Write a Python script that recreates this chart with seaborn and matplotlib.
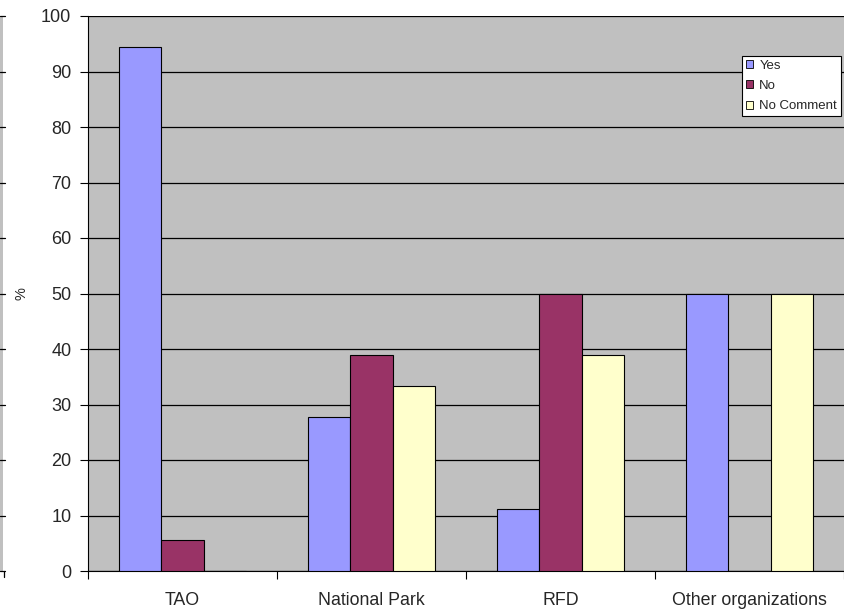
import matplotlib
matplotlib.use("Agg")
import matplotlib.pyplot as plt
import matplotlib.patches as mpatches
import matplotlib.lines as mlines
import seaborn as sns
import pandas as pd
import numpy as np

# Survey answers by organisation (% of respondents)
categories = ["TAO", "National Park", "RFD", "Other organizations"]
answers = ["Yes", "No", "No Comment"]
yes_vals = [94.4, 27.8, 11.1, 50.0]
no_vals = [5.6, 38.9, 50.0, 0.0]
nocomment_vals = [0.0, 33.3, 38.9, 50.0]
colors = ["#9999FF", "#993366", "#FFFFCC"]

rows = []
for ans, vals in zip(answers, [yes_vals, no_vals, nocomment_vals]):
    for cat, v in zip(categories, vals):
        rows.append({"Organization": cat, "Answer": ans, "Percent": v})
df = pd.DataFrame(rows)

sns.set_theme(style="white")
plt.rcParams["font.family"] = ["Liberation Sans", "DejaVu Sans"]

W, H = 844, 610
fig = plt.figure(figsize=(W / 100, H / 100), dpi=100)
fig.patch.set_facecolor("white")
ax = fig.add_axes([88 / W, (H - 571) / H, (W - 88) / W, (571 - 16) / H])
ax.set_facecolor("#C0C0C0")

sns.barplot(data=df, x="Organization", y="Percent", hue="Answer",
            hue_order=answers, palette=colors, order=categories,
            width=0.667, saturation=1, edgecolor="black", linewidth=0.8,
            errorbar=None, ax=ax, legend=False, zorder=3)

ax.set_ylim(0, 100)
ax.set_xlim(-0.5, len(categories) - 0.5)
ax.set_yticks(np.arange(0, 101, 10))
ax.yaxis.grid(True, color="black", linewidth=0.9, zorder=0)
ax.set_axisbelow(True)

# category separators as major ticks, labels on minor ticks at centres
ax.set_xticks(np.arange(-0.5, len(categories), 1.0))
ax.set_xticklabels([])
ax.set_xticks(np.arange(len(categories)), minor=True)
ax.set_xticklabels(categories, minor=True, fontsize=12.8)
ax.tick_params(axis="x", which="major", length=6, width=0.8, color="black",
               direction="out", bottom=True)
ax.tick_params(axis="x", which="minor", length=0, pad=15)
ax.tick_params(axis="y", length=6, width=0.8, color="black", direction="out",
               left=True, labelsize=13, pad=6)

ax.set_xlabel("")
ax.set_ylabel("%", fontsize=10.5)
ax.yaxis.set_label_coords((29 - 88) / (W - 88), 0.5)

for s in ["top", "right"]:
    ax.spines[s].set_visible(False)
for s in ["left", "bottom"]:
    ax.spines[s].set_color("black")
    ax.spines[s].set_linewidth(0.8)

handles = [mpatches.Patch(facecolor=c, edgecolor="black", linewidth=0.6, label=a)
           for a, c in zip(answers, colors)]
leg = ax.legend(handles=handles, loc="upper right",
                bbox_to_anchor=((841 - 88) / (W - 88), (571 - 56) / (571 - 16)),
                fontsize=9.5, frameon=True, fancybox=False, framealpha=1,
                edgecolor="black", handlelength=0.55, handleheight=0.55,
                handletextpad=0.45, borderpad=0.3, labelspacing=0.62,
                borderaxespad=0)
leg.get_frame().set_linewidth(0.8)
leg.set_zorder(5)

# sliver of the neighbouring panel on the far left
fig.patches.append(mpatches.Rectangle((0, (H - 572) / H), 3 / W, (572 - 16) / H,
                                      transform=fig.transFigure,
                                      facecolor="#C0C0C0", edgecolor="none"))
for v in range(0, 101, 10):
    y = (H - (571 - v * 5.55)) / H
    fig.lines.append(mlines.Line2D([0, 5 / W], [y, y], transform=fig.transFigure,
                                   color="black", linewidth=0.9))
fig.lines.append(mlines.Line2D([4 / W, 4 / W], [(H - 571) / H, (H - 577) / H],
                               transform=fig.transFigure, color="black", linewidth=0.9))

fig.savefig("out.png", dpi=100)
